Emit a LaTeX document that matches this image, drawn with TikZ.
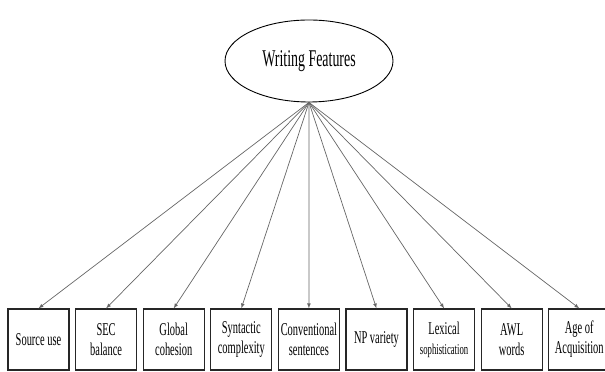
\documentclass[tikz,border=0pt]{standalone}
\usepackage{fontspec}
\setmainfont{Liberation Serif}[FakeStretch=0.58]
\usepackage{tikz}
\usetikzlibrary{arrows,positioning,shapes}
\tikzstyle{latent}=[draw, ellipse, line width=0.9pt, minimum width=168pt, minimum height=82pt, inner sep=0pt, font=\fontsize{24}{28}\selectfont]
\tikzstyle{indicator}=[draw=black!85, line width=1.2pt, minimum width=61pt, minimum height=61pt, inner sep=0pt, align=center, font=\fontsize{18}{20}\selectfont]
\tikzstyle{loading}=[->, >=latex, draw=black!60, line width=0.7pt]

\begin{document}
\begin{tikzpicture}[x=1pt, y=1pt, node distance=67.6pt]
    \clip (0,0) rectangle (605,372);
    \node (feat) [latent] at (309,311) {Writing Features};
    %
    \node (src) [indicator] at (38.5,32.5) {Source use};
    \node (sec) [indicator, right of=src] {SEC\\balance};
    \node (glob) [indicator, right of=sec] {Global\\cohesion};
    \node (synt) [indicator, right of=glob] {Syntactic\\complexity};
    \node (conv) [indicator, right of=synt] {Conventional\\sentences};
    \node (npv) [indicator, right of=conv] {NP variety};
    \node (lex) [indicator, right of=npv] {Lexical\\{\fontsize{15}{17}\selectfont sophistication}};
    \node (awl) [indicator, right of=lex] {AWL\\words};
    \node (aoa) [indicator, right of=awl] {Age of\\Acquisition};
    %
    \draw [loading] (feat.south) -- (src.north);
    \draw [loading] (feat.south) -- (sec.north);
    \draw [loading] (feat.south) -- (glob.north);
    \draw [loading] (feat.south) -- (synt.north);
    \draw [loading] (feat.south) -- (conv.north);
    \draw [loading] (feat.south) -- (npv.north);
    \draw [loading] (feat.south) -- (lex.north);
    \draw [loading] (feat.south) -- (awl.north);
    \draw [loading] (feat.south) -- (aoa.north);
\end{tikzpicture}
\end{document}
